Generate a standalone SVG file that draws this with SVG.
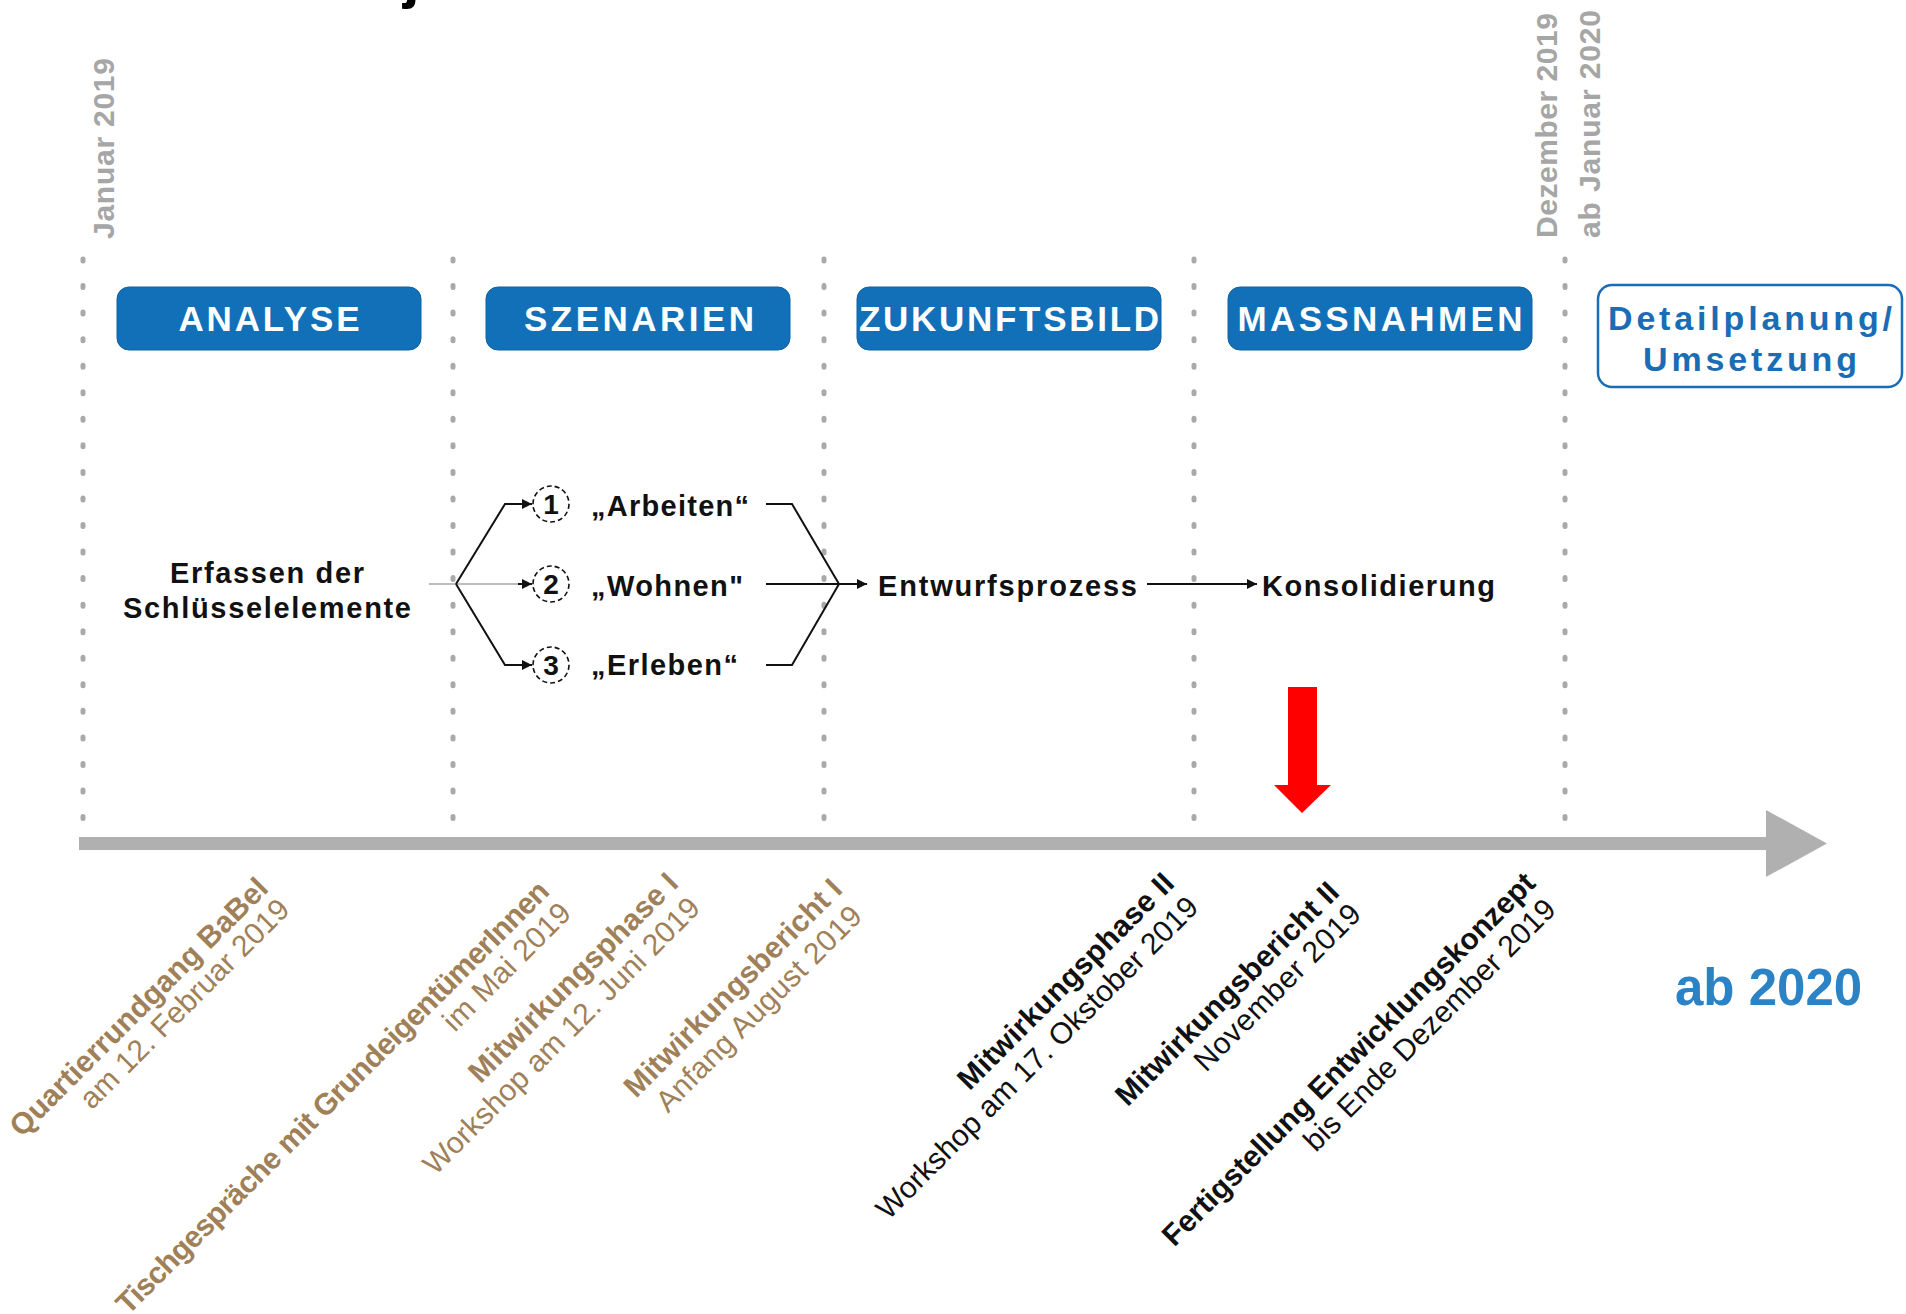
<svg xmlns="http://www.w3.org/2000/svg" width="1906" height="1314" viewBox="0 0 1906 1314">
<style>
.bx{fill:#1170b8;stroke:#0e62a2;stroke-width:1}
.bt{font-family:"Liberation Sans",Arial,sans-serif;font-weight:bold;font-size:35px;fill:#ffffff;text-anchor:middle}
.dt{font-family:"Liberation Sans",Arial,sans-serif;font-weight:bold;font-size:34px;fill:#1a6db5;text-anchor:middle}
.vl{font-family:"Liberation Sans",Arial,sans-serif;font-weight:bold;font-size:30px;fill:#a6a6a6}
.dot{stroke:#a9a9a9;stroke-width:5;stroke-linecap:round;stroke-dasharray:2 24.55;fill:none}
.mt{font-family:"Liberation Sans",Arial,sans-serif;font-weight:bold;font-size:29px;fill:#111111}
.ln{stroke:#111111;stroke-width:2;fill:none}
.lb{font-family:"Liberation Sans",Arial,sans-serif;font-weight:bold;font-size:30px;text-anchor:end}
.lr{font-family:"Liberation Sans",Arial,sans-serif;font-weight:normal;font-size:30px;text-anchor:end}
.br{fill:#a08058}
.bk{fill:#111111}
.num{font-family:"Liberation Sans",Arial,sans-serif;font-weight:bold;font-size:28px;fill:#111111;text-anchor:middle}
.cir{fill:#ffffff;stroke:#111111;stroke-width:1.6;stroke-dasharray:5 3}
</style>
<defs>
<marker id="ah" viewBox="0 0 10 10" refX="10" refY="5" markerUnits="userSpaceOnUse" markerWidth="12" markerHeight="10" orient="auto">
<path d="M0,0 L10,5 L0,10 z" fill="#111111"/>
</marker>
</defs>
<rect width="1906" height="1314" fill="#ffffff"/>

<text x="403" y="-3" font-family="Liberation Sans, Arial, sans-serif" font-weight="bold" font-size="60" fill="#000000">j</text>

<g id="dotted-lines">
<line class="dot" x1="83" y1="259" x2="83" y2="822"/>
<line class="dot" x1="453" y1="259" x2="453" y2="822"/>
<line class="dot" x1="824" y1="259" x2="824" y2="822"/>
<line class="dot" x1="1194" y1="259" x2="1194" y2="822"/>
<line class="dot" x1="1565" y1="259" x2="1565" y2="822"/>
</g>

<g id="date-labels">
<text class="vl" transform="translate(114,239) rotate(-90)" textLength="181" lengthAdjust="spacing">Januar 2019</text>
<text class="vl" transform="translate(1557,238) rotate(-90)" textLength="225" lengthAdjust="spacing">Dezember 2019</text>
<text class="vl" transform="translate(1600,238) rotate(-90)" textLength="228" lengthAdjust="spacing">ab Januar 2020</text>
</g>

<g id="phase-analyse">
<rect class="bx" x="117" y="287" width="304" height="63" rx="12"/>
<text class="bt" x="269" y="331" textLength="181" lengthAdjust="spacing">ANALYSE</text>
</g>
<g id="phase-szenarien">
<rect class="bx" x="486" y="287" width="304" height="63" rx="12"/>
<text class="bt" x="639" y="331" textLength="230" lengthAdjust="spacing">SZENARIEN</text>
</g>
<g id="phase-zukunftsbild">
<rect class="bx" x="857" y="287" width="304" height="63" rx="12"/>
<text class="bt" x="1009" y="331" textLength="300" lengthAdjust="spacing">ZUKUNFTSBILD</text>
</g>
<g id="phase-massnahmen">
<rect class="bx" x="1228" y="287" width="304" height="63" rx="12"/>
<text class="bt" x="1380" y="331" textLength="285" lengthAdjust="spacing">MASSNAHMEN</text>
</g>
<g id="phase-detailplanung">
<rect x="1598" y="285" width="304" height="102" rx="14" fill="#ffffff" stroke="#1a6db5" stroke-width="2.5"/>
<text class="dt" x="1750" y="330" textLength="284" lengthAdjust="spacing">Detailplanung/</text>
<text class="dt" x="1750" y="371" textLength="214" lengthAdjust="spacing">Umsetzung</text>
</g>

<g id="node-erfassen">
<text class="mt" x="267" y="583" text-anchor="middle" textLength="194" lengthAdjust="spacing">Erfassen der</text>
<text class="mt" x="267" y="618" text-anchor="middle" textLength="288" lengthAdjust="spacing">Schlüsselelemente</text>
</g>
<g id="node-arbeiten">
<circle class="cir" cx="551" cy="504" r="18"/>
<text class="num" x="551" y="514">1</text>
<text class="mt" x="591" y="516" textLength="158" lengthAdjust="spacing">„Arbeiten“</text>
</g>
<g id="node-wohnen">
<circle class="cir" cx="551" cy="584" r="18"/>
<text class="num" x="551" y="594">2</text>
<text class="mt" x="591" y="596" textLength="152" lengthAdjust="spacing">„Wohnen"</text>
</g>
<g id="node-erleben">
<circle class="cir" cx="551" cy="665" r="18"/>
<text class="num" x="551" y="675">3</text>
<text class="mt" x="591" y="675" textLength="147" lengthAdjust="spacing">„Erleben“</text>
</g>
<g id="node-entwurf">
<text class="mt" x="878" y="596" textLength="259" lengthAdjust="spacing">Entwurfsprozess</text>
</g>
<g id="node-konsolidierung">
<text class="mt" x="1262" y="596" textLength="233" lengthAdjust="spacing">Konsolidierung</text>
</g>

<g id="connectors">
<path d="M429,584 H521" stroke="#bdbdbd" stroke-width="2" fill="none"/>
<path class="ln" d="M518,584 H532" marker-end="url(#ah)"/>
<path class="ln" d="M456,584 L505,504 H532" marker-end="url(#ah)"/>
<path class="ln" d="M456,584 L505,665 H532" marker-end="url(#ah)"/>
<path class="ln" d="M766,504 H792 L839,584"/>
<path class="ln" d="M766,665 H792 L839,584"/>
<path class="ln" d="M766,584 H867" marker-end="url(#ah)"/>
<path class="ln" d="M1147,584 H1257" marker-end="url(#ah)"/>
</g>

<g id="timeline">
<rect x="79" y="837" width="1688" height="13" fill="#b0b0b0"/>
<polygon points="1766,810 1827,843.5 1766,877" fill="#b0b0b0"/>
</g>

<g id="marker-red">
<polygon points="1288,687 1317,687 1317,785 1331,785 1302,813 1274,785 1288,785" fill="#ff0000"/>
</g>

<g id="label-1" transform="translate(270,890) rotate(-45)">
<text class="lb br" textLength="351" lengthAdjust="spacing">Quartierrundgang BaBel</text>
<text class="lr br" y="30" textLength="282" lengthAdjust="spacing">am 12. Februar 2019</text>
</g>
<g id="label-2" transform="translate(551,893) rotate(-45)">
<text class="lb br" textLength="598" lengthAdjust="spacing">Tischgespräche mit GrundeigentümerInnen</text>
<text class="lr br" y="31" textLength="167" lengthAdjust="spacing">im Mai 2019</text>
</g>
<g id="label-3" transform="translate(680,885) rotate(-45)">
<text class="lb br" textLength="282" lengthAdjust="spacing">Mitwirkungsphase I</text>
<text class="lr br" x="-2" y="33" textLength="377" lengthAdjust="spacing">Workshop am 12. Juni 2019</text>
</g>
<g id="label-4" transform="translate(844,891) rotate(-45)">
<text class="lb br" textLength="294" lengthAdjust="spacing">Mitwirkungsbericht I</text>
<text class="lr br" x="-5" y="33" textLength="277" lengthAdjust="spacing">Anfang August 2019</text>
</g>
<g id="label-5" transform="translate(1176,885) rotate(-45)">
<text class="lb bk" textLength="292" lengthAdjust="spacing">Mitwirkungsphase II</text>
<text class="lr bk" y="34" textLength="441" lengthAdjust="spacing">Workshop am 17. Okstober 2019</text>
</g>
<g id="label-6" transform="translate(1341,894) rotate(-45)">
<text class="lb bk" textLength="302" lengthAdjust="spacing">Mitwirkungsbericht II</text>
<text class="lr bk" y="31" textLength="222" lengthAdjust="spacing">November 2019</text>
</g>
<g id="label-7" transform="translate(1537,885) rotate(-45)">
<text class="lb bk" textLength="513" lengthAdjust="spacing">Fertigstellung Entwicklungskonzept</text>
<text class="lr bk" x="-4" y="33" textLength="342" lengthAdjust="spacing">bis Ende Dezember 2019</text>
</g>

<g id="label-ab2020">
<text x="1675" y="1005" font-family="Liberation Sans, Arial, sans-serif" font-weight="bold" font-size="51" fill="#2b83c6">ab 2020</text>
</g>
</svg>
